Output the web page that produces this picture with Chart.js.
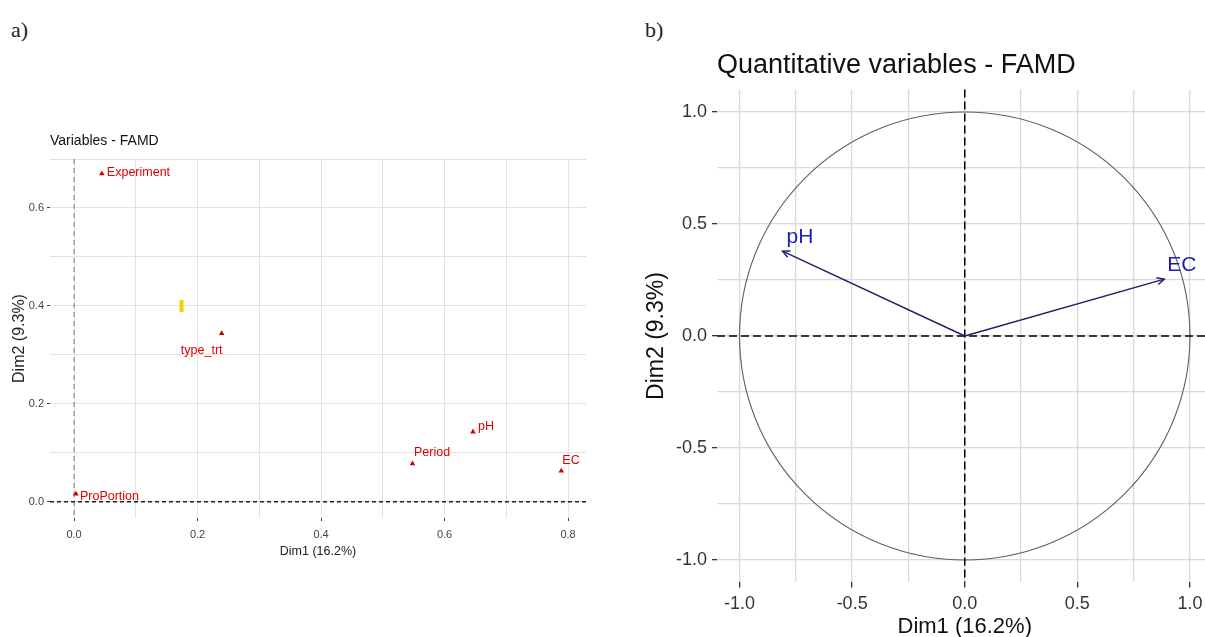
<!DOCTYPE html>
<html><head><meta charset="utf-8">
<script src="https://cdn.jsdelivr.net/npm/chart.js@4/dist/chart.umd.min.js"></script>
<style>
html,body{margin:0;padding:0;background:#fff;overflow:hidden;width:1205px;height:637px;position:relative;}
#a{position:absolute;left:0;top:0;}
#b{position:absolute;left:640px;top:0;}
.lab{position:absolute;font-family:"Liberation Serif","DejaVu Serif",serif;font-size:22px;color:#222;line-height:1;}
</style></head><body>
<div class="lab" style="left:11px;top:19px">a)</div>
<div class="lab" style="left:645px;top:19px">b)</div>
<canvas id="a" width="600" height="637" style="width:600px;height:637px"></canvas>
<canvas id="b" width="575" height="645" style="width:575px;height:645px"></canvas>
<script>
// ---------- data: panel a (Variables - FAMD) ----------
const leftVars = ['Experiment', 'type_trt', 'Period', 'pH', 'EC', 'ProPortion'];
const leftDim1 = [0.045, 0.239, 0.548, 0.646, 0.789, 0.003];
const leftDim2 = [0.670, 0.344, 0.078, 0.143, 0.063, 0.016];
const markerDim1 = [0.174];
const markerDim2 = [0.400];
const leftXMajor = [0, 0.2, 0.4, 0.6, 0.8];
const leftXLabels = ['0.0', '0.2', '0.4', '0.6', '0.8'];
const leftXMinor = [0.1, 0.3, 0.5, 0.7];
const leftYMajor = [0, 0.2, 0.4, 0.6];
const leftYLabels = ['0.0', '0.2', '0.4', '0.6'];
const leftYMinor = [0.1, 0.3, 0.5, 0.7];

// ---------- data: panel b (Quantitative variables - FAMD) ----------
const quantVars = ['pH', 'EC'];
const quantDim1 = [-0.809, 0.886];
const quantDim2 = [0.379, 0.254];
const rightMajor = [-1, -0.5, 0, 0.5, 1];
const rightLabels = ['-1.0', '-0.5', '0.0', '0.5', '1.0'];
const rightMinor = [-0.75, -0.25, 0.25, 0.75];

// ---------- styling (label placement offsets in px) ----------
const leftLabelStyle = {
  'Experiment': {dx: 5, dy: -1, align: 'left'},
  'type_trt':   {dx: -20, dy: 17, align: 'center'},
  'Period':     {dx: 1.5, dy: -11.5, align: 'left'},
  'pH':         {dx: 5, dy: -5.5, align: 'left'},
  'EC':         {dx: 1, dy: -10.5, align: 'left'},
  'ProPortion': {dx: 4, dy: 3, align: 'left'}
};
const rightLabelStyle = {
  'pH': {dx: 4, dy: -8},
  'EC': {dx: 3, dy: -8}
};

Chart.defaults.font.family = '"Liberation Sans", Arial, sans-serif';

const near = (a, b) => Math.abs(a - b) < 1e-9;
const isIn = (arr, v) => arr.some(m => near(m, v));
const setTicks = vals => s => { s.ticks = vals.slice().sort((p, q) => p - q).map(v => ({value: v})); };
const labelOf = (vals, labs) => v => { const i = vals.findIndex(m => near(m, v)); return i >= 0 ? labs[i] : ''; };

// ---------- panel a ----------
const leftPlugin = {
  id: 'leftDecor',
  beforeDatasetsDraw(chart) {
    const {ctx, chartArea: ca, scales: {x, y}} = chart;
    ctx.save();
    ctx.strokeStyle = '#8a8a8a'; ctx.lineWidth = 1.2; ctx.setLineDash([5, 4]);
    const x0 = x.getPixelForValue(0);
    ctx.beginPath(); ctx.moveTo(x0, ca.top); ctx.lineTo(x0, ca.bottom); ctx.stroke();
    ctx.strokeStyle = '#222'; ctx.lineWidth = 1.5; ctx.setLineDash([4, 3]);
    const y0 = y.getPixelForValue(0);
    ctx.beginPath(); ctx.moveTo(ca.left, y0); ctx.lineTo(ca.right, y0); ctx.stroke();
    ctx.restore();
  },
  afterDatasetsDraw(chart) {
    const {ctx, scales: {x, y}} = chart;
    ctx.save();
    ctx.font = '12.5px "Liberation Sans", Arial, sans-serif';
    ctx.fillStyle = '#dd0000';
    ctx.textBaseline = 'middle';
    leftVars.forEach((n, i) => {
      const st = leftLabelStyle[n];
      ctx.textAlign = st.align;
      ctx.fillText(n, x.getPixelForValue(leftDim1[i]) + st.dx, y.getPixelForValue(leftDim2[i]) + st.dy);
    });
    ctx.restore();
  },
  afterDraw(chart) {
    const {ctx, chartArea: ca} = chart;
    ctx.save();
    ctx.font = '14px "Liberation Sans", Arial, sans-serif';
    ctx.fillStyle = '#111'; ctx.textAlign = 'left'; ctx.textBaseline = 'middle';
    ctx.fillText('Variables - FAMD', ca.left, 141.5);
    ctx.restore();
  }
};

new Chart(document.getElementById('a'), {
  type: 'scatter',
  data: {datasets: [
    {data: leftVars.map((n, i) => ({x: leftDim1[i], y: leftDim2[i]})),
     pointStyle: 'triangle', pointRadius: 3.2, backgroundColor: '#cc0000', borderColor: '#cc0000', borderWidth: 0},
    {data: markerDim1.map((v, i) => ({x: v, y: markerDim2[i]})),
     pointStyle: 'line', rotation: 90, pointRadius: 6, borderWidth: 4, borderColor: '#f2d200', backgroundColor: '#f2d200'}
  ]},
  options: {
    responsive: false, animation: false, events: [],
    layout: {padding: {top: 159, right: 14, bottom: 77, left: 0}},
    plugins: {legend: {display: false}, tooltip: {enabled: false}},
    scales: {
      x: {type: 'linear', min: -0.039, max: 0.829,
        afterBuildTicks: setTicks(leftXMajor.concat(leftXMinor)),
        afterFit: s => { s.height = 42; },
        border: {display: false},
        grid: {color: '#e2e2e2', lineWidth: 1, tickLength: 3,
               tickColor: c => isIn(leftXMajor, c.tick ? c.tick.value : NaN) ? '#444' : 'rgba(0,0,0,0)'},
        ticks: {callback: labelOf(leftXMajor, leftXLabels), font: {size: 11}, color: '#444', padding: 7, maxRotation: 0, autoSkip: false},
        title: {display: true, text: 'Dim1 (16.2%)', font: {size: 12.5}, color: '#222', padding: {top: 0, bottom: 1}}
      },
      y: {type: 'linear', min: -0.033, max: 0.7,
        afterBuildTicks: setTicks(leftYMajor.concat(leftYMinor)),
        afterFit: s => { s.width = 50; },
        border: {display: false},
        grid: {color: '#e2e2e2', lineWidth: 1, tickLength: 3,
               tickColor: c => isIn(leftYMajor, c.tick ? c.tick.value : NaN) ? '#444' : 'rgba(0,0,0,0)'},
        ticks: {callback: labelOf(leftYMajor, leftYLabels), font: {size: 11}, color: '#444', padding: 3, autoSkip: false},
        title: {display: true, text: 'Dim2 (9.3%)', font: {size: 16}, color: '#222', padding: {top: 10, bottom: 0}}
      }
    }
  },
  plugins: [leftPlugin]
});

// ---------- panel b ----------
const rightPlugin = {
  id: 'rightDecor',
  beforeDatasetsDraw(chart) {
    const {ctx, chartArea: ca, scales: {x, y}} = chart;
    ctx.save();
    const x0 = x.getPixelForValue(0), y0 = y.getPixelForValue(0);
    ctx.strokeStyle = '#606060'; ctx.lineWidth = 1.1;
    ctx.beginPath();
    ctx.ellipse(x0, y0, x.getPixelForValue(1) - x0, y0 - y.getPixelForValue(1), 0, 0, Math.PI * 2);
    ctx.stroke();
    ctx.strokeStyle = '#000'; ctx.lineWidth = 1.5; ctx.setLineDash([8, 4]);
    ctx.beginPath(); ctx.moveTo(x0, ca.top); ctx.lineTo(x0, ca.bottom); ctx.stroke();
    ctx.beginPath(); ctx.moveTo(ca.left, y0); ctx.lineTo(ca.right, y0); ctx.stroke();
    ctx.restore();
  },
  afterDatasetsDraw(chart) {
    const {ctx, scales: {x, y}} = chart;
    ctx.save();
    const x0 = x.getPixelForValue(0), y0 = y.getPixelForValue(0);
    quantVars.forEach((n, i) => {
      const px = x.getPixelForValue(quantDim1[i]), py = y.getPixelForValue(quantDim2[i]);
      const ang = Math.atan2(py - y0, px - x0);
      const L = 8, a = 0.45;
      ctx.strokeStyle = '#1f1f6b'; ctx.lineWidth = 1.4; ctx.setLineDash([]);
      ctx.beginPath();
      ctx.moveTo(px - L * Math.cos(ang - a), py - L * Math.sin(ang - a));
      ctx.lineTo(px, py);
      ctx.lineTo(px - L * Math.cos(ang + a), py - L * Math.sin(ang + a));
      ctx.stroke();
      const st = rightLabelStyle[n];
      ctx.font = '21px "Liberation Sans", Arial, sans-serif';
      ctx.fillStyle = '#1c1cb8'; ctx.textAlign = 'left'; ctx.textBaseline = 'alphabetic';
      ctx.fillText(n, px + st.dx, py + st.dy);
    });
    ctx.restore();
  },
  afterDraw(chart) {
    const {ctx, chartArea: ca} = chart;
    ctx.save();
    ctx.font = '27px "Liberation Sans", Arial, sans-serif';
    ctx.fillStyle = '#111'; ctx.textAlign = 'left'; ctx.textBaseline = 'middle';
    ctx.fillText('Quantitative variables - FAMD', ca.left, 66);
    ctx.restore();
  }
};

const rGridColor = '#d9d9d9';
new Chart(document.getElementById('b'), {
  type: 'scatter',
  data: {datasets: quantVars.map((n, i) => ({
    data: [{x: 0, y: 0}, {x: quantDim1[i], y: quantDim2[i]}],
    showLine: true, pointRadius: 0, borderColor: '#1f1f6b', borderWidth: 1.4, fill: false
  }))},
  options: {
    responsive: false, animation: false, events: [],
    layout: {padding: {top: 89.6, right: 2.5, bottom: 0, left: 0}},
    plugins: {legend: {display: false}, tooltip: {enabled: false}},
    scales: {
      x: {type: 'linear', min: -1.1, max: 1.1,
        afterBuildTicks: setTicks(rightMajor.concat(rightMinor)),
        afterFit: s => { s.height = 62.6; },
        border: {display: false},
        grid: {color: rGridColor, lineWidth: 1.3, tickLength: 5,
               tickColor: c => isIn(rightMajor, c.tick ? c.tick.value : NaN) ? '#333' : 'rgba(0,0,0,0)'},
        ticks: {callback: labelOf(rightMajor, rightLabels), font: {size: 18}, color: '#333', padding: 6, maxRotation: 0, autoSkip: false},
        title: {display: true, text: 'Dim1 (16.2%)', font: {size: 22}, color: '#111', padding: {top: 0, bottom: 5}}
      },
      y: {type: 'linear', min: -1.1, max: 1.1,
        afterBuildTicks: setTicks(rightMajor.concat(rightMinor)),
        afterFit: s => { s.width = 77; },
        border: {display: false},
        grid: {color: rGridColor, lineWidth: 1.3, tickLength: 5,
               tickColor: c => isIn(rightMajor, c.tick ? c.tick.value : NaN) ? '#333' : 'rgba(0,0,0,0)'},
        ticks: {callback: labelOf(rightMajor, rightLabels), font: {size: 18}, color: '#333', padding: 5, autoSkip: false},
        title: {display: true, text: 'Dim2 (9.3%)', font: {size: 23}, color: '#111', padding: {top: 3, bottom: 0}}
      }
    }
  },
  plugins: [rightPlugin]
});
</script>
</body></html>
